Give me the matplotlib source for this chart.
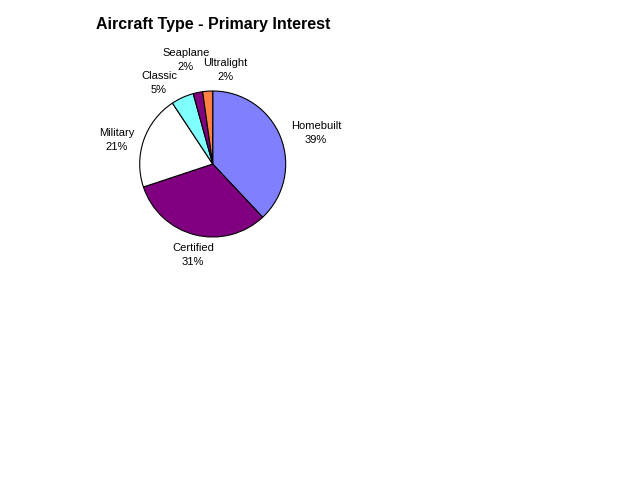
import matplotlib.pyplot as plt

plt.rcParams['font.family'] = ['Liberation Sans', 'DejaVu Sans']

# data (slice sizes, labels as printed)
categories = ['Homebuilt', 'Certified', 'Military', 'Classic', 'Seaplane', 'Ultralight']
shares = [38.0, 31.9, 20.8, 5.0, 2.1, 2.2]
pct_labels = ['39%', '31%', '21%', '5%', '2%', '2%']
colors = ['#8080FF', '#800080', '#FFFFFF', '#80FFFF', '#800080', '#FF8040']

# label centres in pixels (x, y from top), Excel-style placement
label_px = [(316, 133), (193, 255), (117, 140), (159, 83), (186, 60), (225, 70)]

W, H = 640, 480
cx, cy, r = 212.7, 164, 73

fig = plt.figure(figsize=(6.4, 4.8), dpi=100)
fig.patch.set_facecolor('white')

ax = fig.add_axes([(cx - r) / W, (H - cy - r) / H, 2 * r / W, 2 * r / H])
wedges, texts = ax.pie(shares, colors=colors, startangle=90, counterclock=False,
                       labels=[f'{c}\n{p}' for c, p in zip(categories, pct_labels)],
                       wedgeprops=dict(edgecolor='black', linewidth=0.8),
                       textprops=dict(fontsize=8, ha='center', va='center', linespacing=1.45))
ax.set_xlim(-1, 1)
ax.set_ylim(-1, 1)
ax.set_aspect('equal')

for t, (px, py) in zip(texts, label_px):
    t.set_position(((px - cx) / r, (cy - py) / r))
    t.set_horizontalalignment('center')
    t.set_verticalalignment('center')

fig.text(213 / W, 1 - 25 / H, 'Aircraft Type - Primary Interest',
         ha='center', va='center', fontsize=11.5, fontweight='bold')

fig.savefig('out.png', dpi=100)
